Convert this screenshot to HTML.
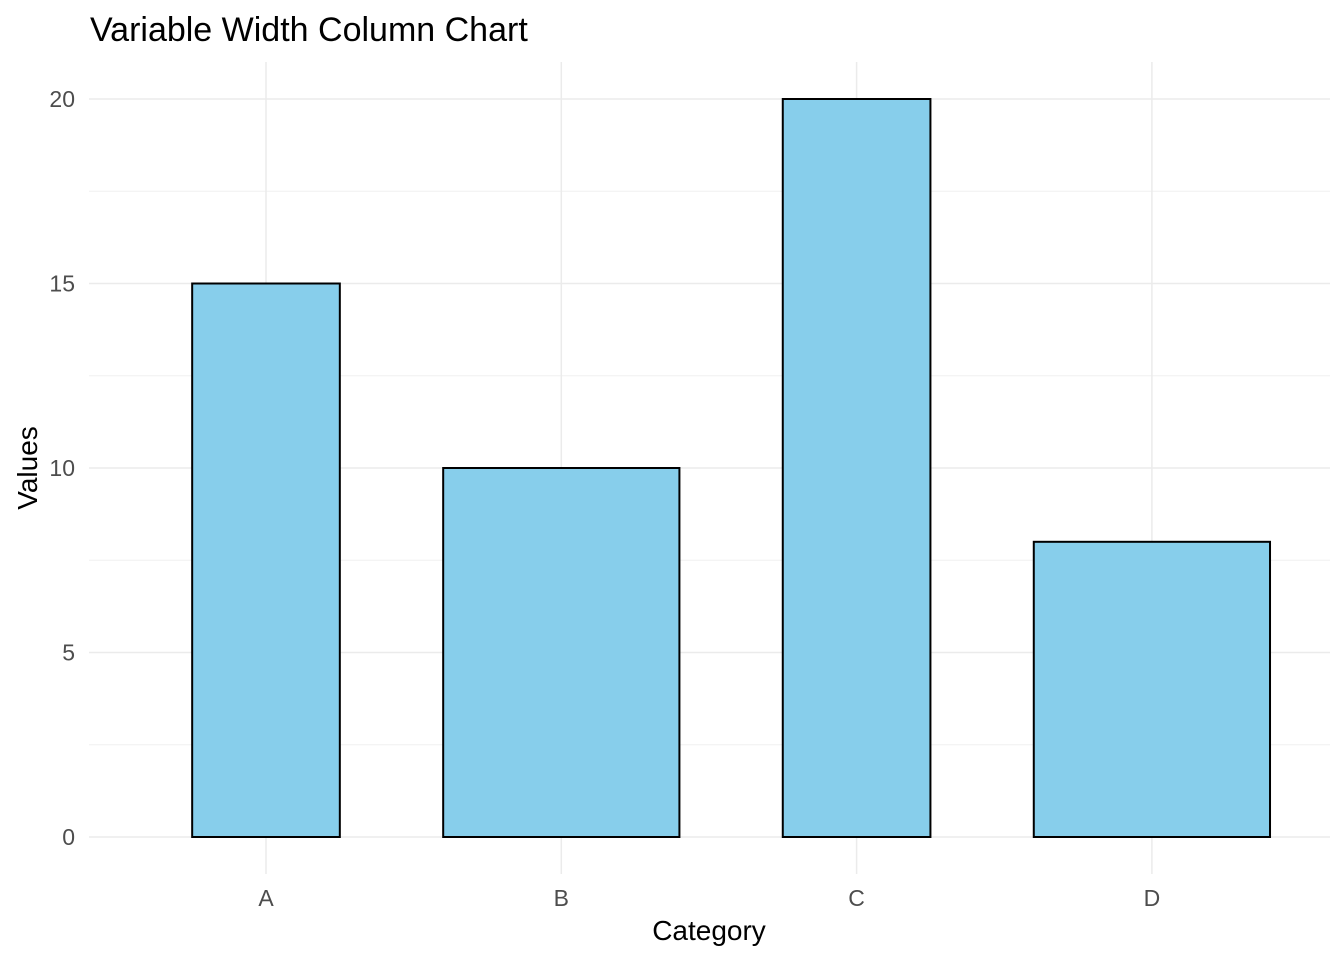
<!DOCTYPE html>
<html><head><meta charset="utf-8"><style>
body{margin:0;background:#fff}
svg{display:block;font-family:"Liberation Sans",Arial,sans-serif}
</style></head><body>
<svg id="chart" width="1344" height="960">
<text x="90" y="41" font-size="34" fill="#000">Variable Width Column Chart</text>
<g id="grid"></g><g id="bars"></g><g id="axes"></g>
<text x="709" y="940" font-size="28" text-anchor="middle" fill="#000">Category</text>
<text transform="translate(37,468) rotate(-90)" font-size="28" text-anchor="middle" fill="#000">Values</text>
</svg>
<script>
const categories=["A","B","C","D"];
const values=[15,10,20,8];
const widths=[0.5,0.8,0.5,0.8];
const yTicks=[0,5,10,15,20];
const ns="http://www.w3.org/2000/svg";
const X0=89,X1=1330,Y0=62,Y1=874;
const xs=v=>266+(v-1)*295.3;
const ys=v=>837-v*36.9;
function mk(t,a,p){const e=document.createElementNS(ns,t);for(const k in a)e.setAttribute(k,a[k]);p.appendChild(e);return e;}
const grid=document.getElementById('grid'),bars=document.getElementById('bars'),axes=document.getElementById('axes');
for(let i=0;i<yTicks.length-1;i++){const m=(yTicks[i]+yTicks[i+1])/2;
 const l=mk('line',{x1:X0,x2:X1,y1:ys(m),y2:ys(m),stroke:'#f0f0f0','stroke-width':1},grid);
 
 }
yTicks.forEach(t=>{const l=mk('line',{x1:X0,x2:X1,y1:ys(t),y2:ys(t),stroke:'#ebebeb','stroke-width':1.5},grid);
 
 
 const tx=mk('text',{x:75,y:ys(t)+8,'font-size':23,'text-anchor':'end',fill:'#4d4d4d'},axes);tx.textContent=t;
 
 });
categories.forEach((c,i)=>{const cx=xs(i+1);
 const l=mk('line',{x1:cx,x2:cx,y1:Y0,y2:Y1,stroke:'#ebebeb','stroke-width':1.5},grid);
 
 
 const w=widths[i]*295.3;
 const r=mk('rect',{x:cx-w/2,y:ys(values[i]),width:w,height:ys(0)-ys(values[i]),fill:'#87ceeb',stroke:'#000','stroke-width':2},bars);
 
 
 const tx=mk('text',{x:cx,y:906,'font-size':23,'text-anchor':'middle',fill:'#4d4d4d'},axes);tx.textContent=c;
 
 });
</script>
</body></html>
